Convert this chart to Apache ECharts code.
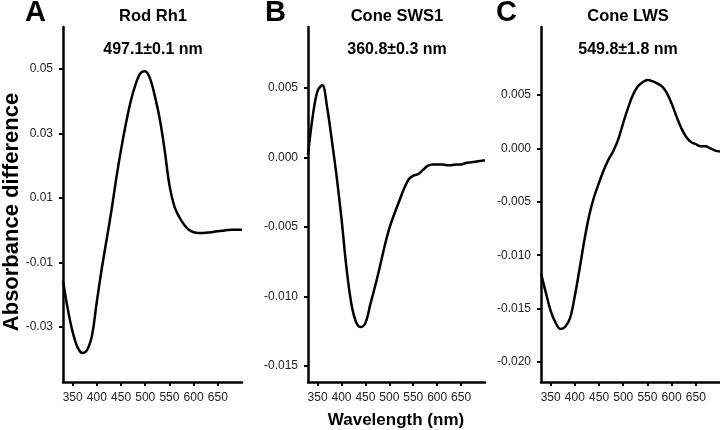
<!DOCTYPE html>
<html><head><meta charset="utf-8">
<script src="https://cdn.jsdelivr.net/npm/echarts@6/dist/echarts.min.js"></script>
<style>html,body{margin:0;padding:0;background:#fff}#c{width:720px;height:430px}</style>
</head><body><div id="c"></div>
<script>
// Wavelengths (nm)
const wlA = [330,340,350,360,370,380,390,400,410,420,430,440,450,460,470,480,490,500,510,520,530,540,550,560,570,580,590,600,610,620,630,640,650,660,670,680,690,700];
const rodRh1 = [-0.0156,-0.0245,-0.0315,-0.0362,-0.0380,-0.0370,-0.0325,-0.0220,-0.0120,-0.0030,0.0060,0.0160,0.0250,0.0330,0.0400,0.0452,0.0487,0.0493,0.0470,0.0415,0.0345,0.0250,0.0140,0.0075,0.0042,0.0018,0.0002,-0.0006,-0.0008,-0.0008,-0.0007,-0.0005,-0.0003,-0.0001,0.0001,0.0002,0.0002,0.0002];

const wlB = [330,340,350,360,370,380,390,400,410,420,430,440,450,460,470,480,490,500,510,520,530,540,550,560,570,580,590,600,610,620,630,640,650,660,670,680,690,700];
const coneSWS1 = [0.0002,0.0030,0.0048,0.0052,0.0036,0.0012,-0.0014,-0.0044,-0.0078,-0.0104,-0.0118,-0.0122,-0.0119,-0.0106,-0.0093,-0.0079,-0.0064,-0.0051,-0.0041,-0.0032,-0.0023,-0.0016,-0.0013,-0.0012,-0.0009,-0.0006,-0.0005,-0.0005,-0.0005,-0.00055,-0.00055,-0.0005,-0.0005,-0.0004,-0.00035,-0.0003,-0.00025,-0.0002];

const wlC = [330,340,350,360,370,380,390,400,410,420,430,440,450,460,470,480,490,500,510,520,530,540,550,560,570,580,590,600,610,620,630,640,650,660,670,680,690,700];
const coneLWS = [-0.0117,-0.0135,-0.0152,-0.0163,-0.0169,-0.0167,-0.0159,-0.0138,-0.0112,-0.0085,-0.0062,-0.0045,-0.0032,-0.0020,-0.0010,-0.0002,0.0009,0.0024,0.0038,0.0050,0.0058,0.0062,0.0064,0.0063,0.0061,0.0058,0.0052,0.0042,0.0030,0.0019,0.0011,0.0006,0.0004,0.0002,0.0002,0.0000,-0.0002,-0.0003];

const xTicks = [350,400,450,500,550,600,650];
const yTicksA = [-0.03,-0.01,0.01,0.03,0.05];
const yTicksB = [-0.015,-0.010,-0.005,0.000,0.005];
const yTicksC = [-0.020,-0.015,-0.010,-0.005,0.000,0.005];

const titles = ['Rod Rh1','Cone SWS1','Cone LWS'];
const peaks = ['497.1±0.1 nm','360.8±0.3 nm','549.8±1.8 nm'];
const letters = ['A','B','C'];

const tickFont = {fontFamily:'"Liberation Sans",Arial,sans-serif', fontSize:12, color:'#222'};
const axisLineStyle = {color:'#000', width:2.5};

function xAx(gi){
  return {gridIndex:gi, type:'value', min:330, max:700,
    axisLine:{show:true,onZero:false,lineStyle:axisLineStyle},
    axisTick:{show:true,length:4,lineStyle:{color:'#000',width:2},customValues:xTicks},
    axisLabel:{...tickFont, margin:10, customValues:xTicks, formatter:v=>String(v)},
    splitLine:{show:false}};
}
function yAx(gi,min,max,ticks,dec){
  return {gridIndex:gi, type:'value', min:min, max:max,
    axisLine:{show:true,onZero:false,lineStyle:axisLineStyle},
    axisTick:{show:true,length:4,lineStyle:{color:'#000',width:2},customValues:ticks},
    axisLabel:{...tickFont, margin:10, customValues:ticks, formatter:v=>v.toFixed(dec)},
    splitLine:{show:false}};
}
function ser(i,xs,ys){
  return {type:'line', xAxisIndex:i, yAxisIndex:i, data:xs.map((x,k)=>[x,ys[k]]),
    showSymbol:false, smooth:0.35, lineStyle:{color:'#000',width:2.5}, silent:true};
}

const grids = [
  {left:63, top:27, width:179, height:355},
  {left:308, top:27, width:177, height:355},
  {left:541, top:27, width:179, height:355}
];
const centers = [153,397,628];
const letterX = [25,265,496];

const graphic = [];
for(let i=0;i<3;i++){
  graphic.push({type:'text', x:letterX[i], y:-2, style:{text:letters[i], font:'bold 29px "Liberation Sans",Arial,sans-serif', fill:'#000'}});
  graphic.push({type:'text', x:centers[i], y:16, style:{text:titles[i], font:'bold 16.5px "Liberation Sans",Arial,sans-serif', fill:'#000', textAlign:'center', textVerticalAlign:'middle'}});
  graphic.push({type:'text', x:centers[i], y:50, style:{text:peaks[i], font:'bold 16px "Liberation Sans",Arial,sans-serif', fill:'#000', textAlign:'center', textVerticalAlign:'middle'}});
}
graphic.push({type:'text', x:12, y:212, rotation:Math.PI/2, style:{text:'Absorbance difference', font:'bold 22px "Liberation Sans",Arial,sans-serif', fill:'#000', textAlign:'center', textVerticalAlign:'middle'}});
graphic.push({type:'text', x:396, y:420, style:{text:'Wavelength (nm)', font:'bold 17px "Liberation Sans",Arial,sans-serif', fill:'#000', textAlign:'center', textVerticalAlign:'middle'}});

const chart = echarts.init(document.getElementById('c'), null, {renderer:'canvas'});
chart.setOption({
  animation:false,
  backgroundColor:'#fff',
  grid:grids,
  xAxis:[xAx(0),xAx(1),xAx(2)],
  yAxis:[yAx(0,-0.047,0.063,yTicksA,2), yAx(1,-0.01615,0.00939,yTicksB,3), yAx(2,-0.02187,0.01137,yTicksC,3)],
  series:[ser(0,wlA,rodRh1), ser(1,wlB,coneSWS1), ser(2,wlC,coneLWS)],
  graphic:graphic
});
</script></body></html>
